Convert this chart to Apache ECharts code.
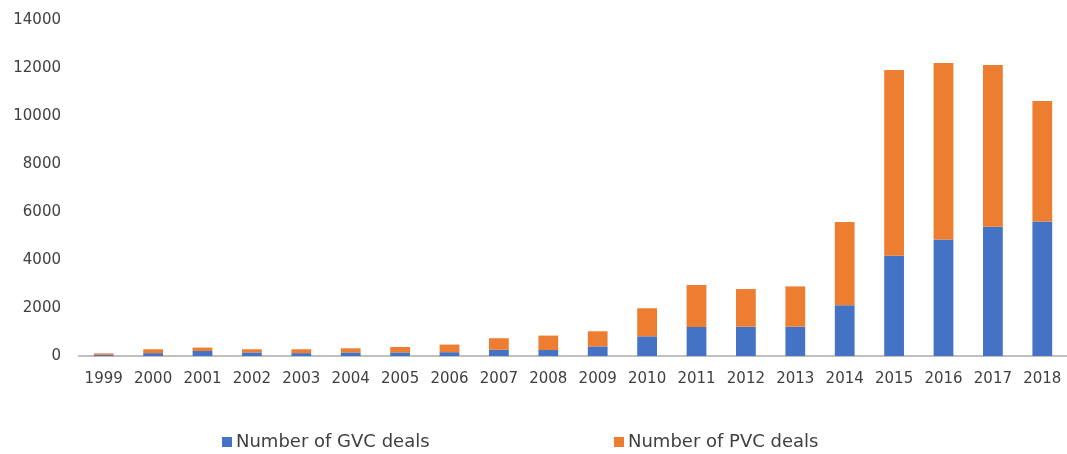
<!DOCTYPE html>
<html>
<head>
<meta charset="utf-8">
<script src="https://cdn.jsdelivr.net/npm/echarts@6/dist/echarts.min.js"></script>
<style>
html, body { margin: 0; padding: 0; background: #fff; }
#chart { width: 1067px; height: 454px; }
</style>
</head>
<body>
<div id="chart"></div>
<script>
const years = ['1999', '2000', '2001', '2002', '2003', '2004', '2005', '2006', '2007', '2008',
  '2009', '2010', '2011', '2012', '2013', '2014', '2015', '2016', '2017', '2018']
const gvcDeals = [50, 120, 210, 150, 120, 150, 150, 160, 260, 250,
  400, 820, 1210, 1220, 1220, 2110, 4180, 4850, 5390, 5600]
const pvcDeals = [60, 160, 140, 130, 160, 170, 225, 315, 480, 600,
  630, 1170, 1750, 1570, 1680, 3470, 7740, 7360, 6740, 5020]

const textColor = '#404040'
const font = 'DejaVu Sans'

const chart = echarts.init(document.getElementById('chart'))

chart.setOption({
  animation: false,
  grid: {
    left: 79,
    right: 0,
    top: 20,
    bottom: 98
  },
  legend: [
    {
      data: ['Number of GVC deals'],
      left: 222,
      top: 433,
      padding: 0,
      itemWidth: 10,
      itemHeight: 10,
      icon: 'rect',
      textStyle: { color: textColor, fontFamily: font, fontSize: 18, padding: [0, 0, 0, -1] }
    },
    {
      data: ['Number of PVC deals'],
      left: 614,
      top: 433,
      padding: 0,
      itemWidth: 10,
      itemHeight: 10,
      icon: 'rect',
      textStyle: { color: textColor, fontFamily: font, fontSize: 18, padding: [0, 0, 0, -1] }
    }
  ],
  xAxis: {
    type: 'category',
    data: years,
    axisLine: { lineStyle: { color: '#bfbfbf', width: 2 } },
    axisTick: { show: false },
    axisLabel: { color: textColor, fontFamily: font, fontSize: 15, margin: 16, interval: 0 }
  },
  yAxis: {
    type: 'value',
    min: 0,
    max: 14000,
    interval: 2000,
    axisLine: { show: false },
    axisTick: { show: false },
    splitLine: { show: false },
    axisLabel: { color: textColor, fontFamily: font, fontSize: 15, margin: 18, formatter: v => String(v) }
  },
  series: [
    {
      name: 'Number of GVC deals',
      type: 'bar',
      stack: 'deals',
      barWidth: '40%',
      data: gvcDeals,
      itemStyle: { color: '#4472C4' }
    },
    {
      name: 'Number of PVC deals',
      type: 'bar',
      stack: 'deals',
      barWidth: '40%',
      data: pvcDeals,
      itemStyle: { color: '#ED7D31' }
    }
  ]
})
</script>
</body>
</html>
